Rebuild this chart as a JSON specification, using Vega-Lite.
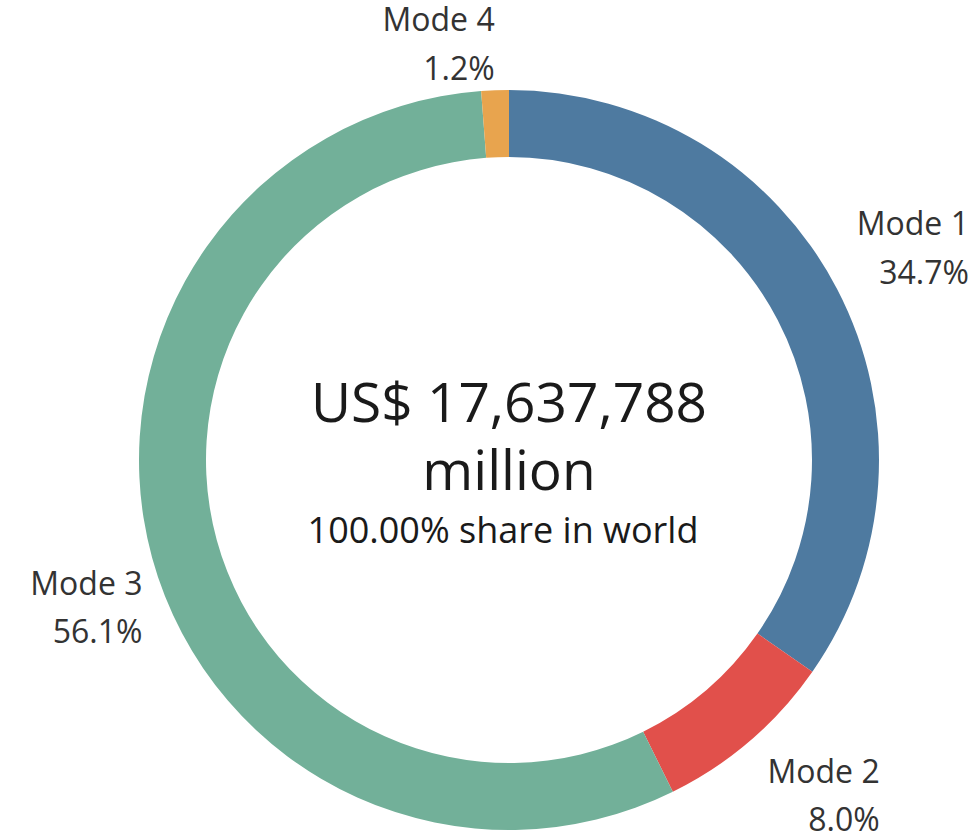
{
  "$schema": "https://vega.github.io/schema/vega-lite/v6.json",
  "autosize": {"type": "none"},
  "width": 934,
  "height": 744,
  "padding": {"left": 42, "top": 88, "right": 0, "bottom": 0},
  "background": "white",
  "config": {"view": {"stroke": null}, "font": "Open Sans"},
  "datasets": {
    "modes": [
      {"mode": "Mode 1", "share": 0.347},
      {"mode": "Mode 2", "share": 0.080},
      {"mode": "Mode 3", "share": 0.561},
      {"mode": "Mode 4", "share": 0.012}
    ],
    "center": [
      {"amount": "US$ 17,637,788", "unit": "million", "note": "100.00% share in world"}
    ]
  },
  "layer": [
    {
      "data": {"name": "modes"},
      "mark": {"type": "arc", "innerRadius": 303, "outerRadius": 370},
      "encoding": {
        "theta": {"field": "share", "type": "quantitative", "stack": true},
        "order": {"field": "mode", "type": "nominal", "sort": "ascending"},
        "color": {
          "field": "mode",
          "type": "nominal",
          "scale": {
            "domain": ["Mode 1", "Mode 2", "Mode 3", "Mode 4"],
            "range": ["#4e7aa0", "#e1504b", "#72b099", "#e8a44e"]
          },
          "legend": null
        }
      }
    },
    {
      "data": {"name": "modes"},
      "mark": {
        "type": "text",
        "radius": 380,
        "align": "right",
        "fontSize": 32,
        "color": "#333333",
        "baseline": {"expr": "(datum.share_start + datum.share_end) < 0.5 || (datum.share_start + datum.share_end) > 1.5 ? 'alphabetic' : 'top'"},
        "dx": {"expr": "(datum.share_start + datum.share_end) < 1 ? 123 : 0"},
        "dy": {"expr": "(datum.share_start + datum.share_end) < 0.5 || (datum.share_start + datum.share_end) > 1.5 ? -49 : 10"}
      },
      "encoding": {
        "theta": {"field": "share", "type": "quantitative", "stack": true},
        "order": {"field": "mode", "type": "nominal", "sort": "ascending"},
        "detail": {"field": "mode", "type": "nominal"},
        "text": {"field": "mode", "type": "nominal"}
      }
    },
    {
      "data": {"name": "modes"},
      "mark": {
        "type": "text",
        "radius": 380,
        "align": "right",
        "fontSize": 32,
        "color": "#333333",
        "baseline": {"expr": "(datum.share_start + datum.share_end) < 0.5 || (datum.share_start + datum.share_end) > 1.5 ? 'alphabetic' : 'top'"},
        "dx": {"expr": "(datum.share_start + datum.share_end) < 1 ? 123 : 0"},
        "dy": {"expr": "(datum.share_start + datum.share_end) < 0.5 || (datum.share_start + datum.share_end) > 1.5 ? 0 : 58"}
      },
      "encoding": {
        "theta": {"field": "share", "type": "quantitative", "stack": true},
        "order": {"field": "mode", "type": "nominal", "sort": "ascending"},
        "detail": {"field": "mode", "type": "nominal"},
        "text": {"field": "share", "type": "quantitative", "format": ".1%"}
      }
    },
    {
      "data": {"name": "center"},
      "mark": {"type": "text", "fontSize": 55, "align": "center", "baseline": "alphabetic", "dy": -38, "color": "#1a1a1a"},
      "encoding": {"text": {"field": "amount", "type": "nominal"}}
    },
    {
      "data": {"name": "center"},
      "mark": {"type": "text", "fontSize": 55, "align": "center", "baseline": "alphabetic", "dy": 30, "color": "#1a1a1a"},
      "encoding": {"text": {"field": "unit", "type": "nominal"}}
    },
    {
      "data": {"name": "center"},
      "mark": {"type": "text", "fontSize": 36, "align": "center", "baseline": "alphabetic", "dy": 83, "dx": -6, "color": "#1a1a1a"},
      "encoding": {"text": {"field": "note", "type": "nominal"}}
    }
  ]
}
